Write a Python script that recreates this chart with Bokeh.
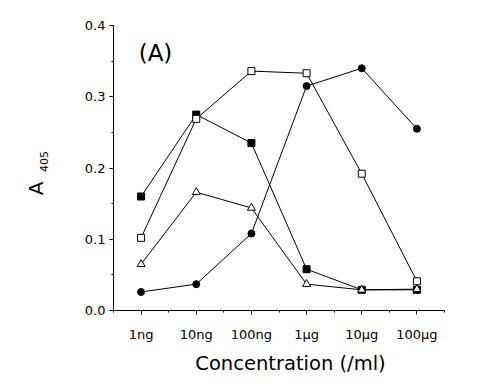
import math
from bokeh.plotting import figure
from bokeh.models import FixedTicker, Label, Range1d, LinearAxis
from bokeh.embed import file_html
from bokeh.resources import INLINE

# ---- data ----
categories = ["1ng", "10ng", "100ng", "1\u00b5g", "10\u00b5g", "100\u00b5g"]
x_idx = [0, 1, 2, 3, 4, 5]
filled_circle = [0.026, 0.037, 0.108, 0.315, 0.340, 0.255]
open_square = [0.102, 0.269, 0.336, 0.333, 0.192, 0.041]
filled_square = [0.160, 0.275, 0.235, 0.058, 0.029, 0.029]
open_triangle = [0.065, 0.166, 0.144, 0.037, 0.029, 0.030]
y_ticks = [0.0, 0.1, 0.2, 0.3, 0.4]
y_tick_labels = ["0.0", "0.1", "0.2", "0.3", "0.4"]

FONT = "DejaVu Sans"
W, H = 476, 382
# frame fills the canvas; axes are pinned inside it
X0, X1 = -0.5, 5.5
Y0, Y1 = 0.0, 0.4
PX_X = 331 / (X1 - X0)
PX_Y = 285 / (Y1 - Y0)
xr = Range1d(X0 - 113 / PX_X, X1 + (W - 444) / PX_X)
yr = Range1d(Y0 - (H - 310) / PX_Y, Y1 + 25 / PX_Y)


def cx(px):
    return xr.start + px / PX_X


def cy(py):
    return yr.end - py / PX_Y


p = figure(width=W, height=H, output_backend="svg", toolbar_location=None,
           x_range=xr, y_range=yr, min_border=0)
p.outline_line_color = None
p.grid.grid_line_color = None
p.background_fill_color = "white"

series = [
    (filled_square, "square", "black"),
    (open_square, "square", "white"),
    (open_triangle, "triangle", "white"),
    (filled_circle, "circle", "black"),
]
for ys, marker, fill in series:
    p.line(x_idx, ys, line_color="black", line_width=1)
for ys, marker, fill in series:
    p.scatter(x_idx, ys, marker=marker, size=7 if marker != "triangle" else 8,
              fill_color=fill, line_color="black", line_width=1)

# axes
p.xaxis.ticker = FixedTicker(ticks=x_idx, minor_ticks=[X0 + i for i in range(7)])
p.xaxis.major_label_overrides = {i: c for i, c in zip(x_idx, categories)}
p.yaxis.ticker = FixedTicker(ticks=y_ticks, minor_ticks=[0.05, 0.15, 0.25, 0.35])
p.yaxis.major_label_overrides = {t: l for t, l in zip(y_ticks, y_tick_labels)}
p.xaxis.fixed_location = Y0
p.yaxis.fixed_location = X0
p.xaxis.bounds = (X0, X1)
p.yaxis.bounds = (Y0, Y1)
for ax in (p.xaxis[0], p.yaxis[0]):
    ax.axis_line_color = "black"
    ax.major_tick_line_color = "black"
    ax.minor_tick_line_color = "black"
    ax.major_tick_out = 4
    ax.major_tick_in = 0
    ax.minor_tick_out = 2
    ax.minor_tick_in = 0
    ax.major_label_text_font = FONT
    ax.major_label_text_font_size = "13px"
    ax.major_label_text_color = "black"
p.xaxis.major_label_standoff = 12
p.yaxis.major_label_standoff = 4


# y-axis title "A 405": label-only axes pinned at the y axis, each centred on its own span
def label_axis(text, size, center_py, half_px, standoff):
    c = cy(center_py)
    h = half_px / PX_Y
    ax = LinearAxis(fixed_location=X0, bounds=(c - h, c + h),
                    ticker=FixedTicker(ticks=[], minor_ticks=[]),
                    axis_line_color=None, major_tick_line_color=None,
                    minor_tick_line_color=None,
                    axis_label=text, axis_label_text_font=FONT,
                    axis_label_text_font_size=size, axis_label_text_font_style="normal",
                    axis_label_text_color="black", axis_label_standoff=standoff)
    p.add_layout(ax, "left")


label_axis("A", "20px", 187.5, 20, 66)
label_axis("405", "11px", 160.5, 20, 66)

# texts
p.add_layout(Label(x=cx(155), y=cy(52), text="(A)", text_font=FONT, text_font_size="23px",
                   text_baseline="middle", text_align="center", text_color="black"))
p.add_layout(Label(x=cx(290), y=cy(363), text="Concentration (/ml)", text_font=FONT,
                   text_font_size="19.5px", text_baseline="middle", text_align="center",
                   text_color="black"))

open("out.html", "w").write(file_html(p, INLINE))
